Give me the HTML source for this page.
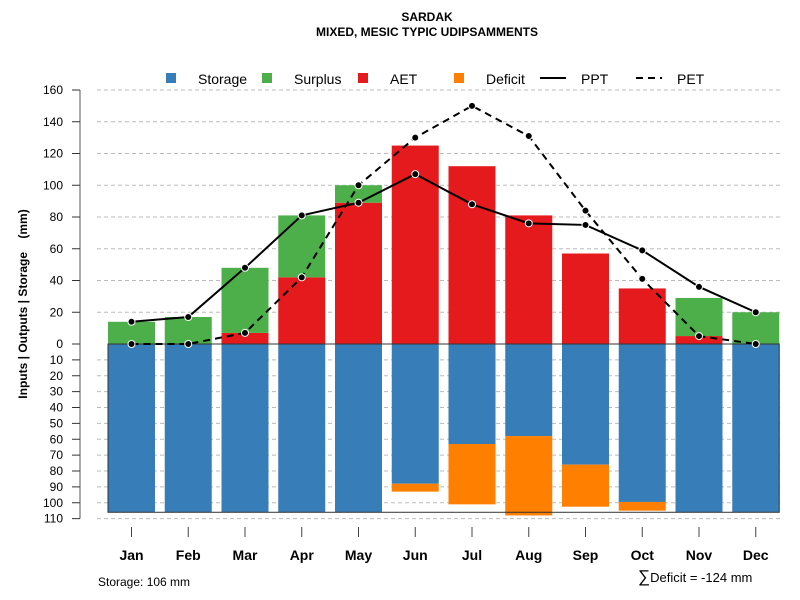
<!DOCTYPE html>
<html><head><meta charset="utf-8"><style>
body{margin:0;background:#fff}
svg{display:block;font-family:"Liberation Sans",sans-serif}
</style></head><body>
<svg id="c" width="800" height="600" xmlns="http://www.w3.org/2000/svg">
<text x="427" y="21" text-anchor="middle" font-size="12" font-weight="bold">SARDAK</text>
<text x="427" y="36" text-anchor="middle" font-size="12" font-weight="bold">MIXED, MESIC TYPIC UDIPSAMMENTS</text>
<g font-size="14">
<rect x="166" y="73" width="10" height="10" fill="#377eb8"/>
<text x="198" y="84">Storage</text>
<rect x="262" y="73" width="10" height="10" fill="#4daf4a"/>
<text x="294" y="84">Surplus</text>
<rect x="358" y="73" width="10" height="10" fill="#e41a1c"/>
<text x="390" y="84">AET</text>
<rect x="454" y="73" width="10" height="10" fill="#ff7f00"/>
<text x="486" y="84">Deficit</text>
<line x1="540" y1="78" x2="566" y2="78" stroke="#000" stroke-width="2"/>
<text x="581" y="84">PPT</text>
<line x1="636" y1="78" x2="662" y2="78" stroke="#000" stroke-width="2" stroke-dasharray="7,5"/>
<text x="677" y="84">PET</text>
</g>
<text transform="translate(27,304) rotate(-90)" text-anchor="middle" font-size="12" font-weight="bold" style="white-space:pre">Inputs | Outputs | Storage    (mm)</text>
<text x="98" y="586" font-size="12">Storage: 106 mm</text>
<text x="638" y="582" font-size="13"><tspan font-size="17">∑</tspan>Deficit = -124 mm</text>
<g id="g"></g>
</svg>
<script>
const months=["Jan","Feb","Mar","Apr","May","Jun","Jul","Aug","Sep","Oct","Nov","Dec"];
const storage=[106,106,106,106,106,88,63,58,76,99.5,106,106];
const deficit=[0,0,0,0,0,5,38,50,26.5,5.5,0,0];
const aet=[0,0,7,42,89,125,112,81,57,35,5,0];
const surplus=[14,17,41,39,11,0,0,0,0,0,24,20];
const ppt=[14,17,48,81,89,107,88,76,75,59,36,20];
const pet=[0,0,7,42,100,130,150,131,84,41,5,0];
const upTicks=[0,20,40,60,80,100,120,140,160];
const downTicks=[10,20,30,40,50,60,70,80,90,100,110];
const maxStorage=106;
const NS="http://www.w3.org/2000/svg",g=document.getElementById('g');
const y0=344,k=1.5875;
const yUp=v=>y0-v*k, yDn=v=>y0+v*k;
const xc=i=>131.5+i*56.75, bw=47;
function el(t,a){const e=document.createElementNS(NS,t);for(const n in a)e.setAttribute(n,a[n]);g.appendChild(e);return e;}
upTicks.forEach(v=>{if(v===0)return;const l=el('line',{x1:97,x2:781,y1:yUp(v),y2:yUp(v),stroke:'#bbb','stroke-dasharray':'4,3'});

});
downTicks.forEach(v=>{const l=el('line',{x1:97,x2:781,y1:yDn(v),y2:yDn(v),stroke:'#bbb','stroke-dasharray':'4,3'});

});
const ax=el('line',{x1:80,x2:80,y1:yUp(160),y2:yDn(110),stroke:'#555','stroke-width':1});


function tick(v,y){const t=el('line',{x1:72,x2:80,y1:y,y2:y,stroke:'#333'});


const tx=el('text',{x:63,y:y+4,'text-anchor':'end','font-size':12});tx.textContent=v;

}
upTicks.forEach(v=>tick(v,yUp(v)));downTicks.forEach(v=>tick(v,yDn(v)));
months.forEach((m,i)=>{const x=xc(i)-bw/2;
let r=el('rect',{x:x,y:y0,width:bw,height:storage[i]*k,fill:'#377eb8'});


if(deficit[i]>0){r=el('rect',{x:x,y:yDn(storage[i]),width:bw,height:deficit[i]*k,fill:'#ff7f00'});

}
if(aet[i]>0){r=el('rect',{x:x,y:yUp(aet[i]),width:bw,height:aet[i]*k,fill:'#e41a1c'});

}
if(surplus[i]>0){r=el('rect',{x:x,y:yUp(aet[i]+surplus[i]),width:bw,height:surplus[i]*k,fill:'#4daf4a'});

}
const t=el('line',{x1:xc(i),x2:xc(i),y1:527,y2:537,stroke:'#444'});


const tx=el('text',{x:xc(i),y:560,'text-anchor':'middle','font-size':14,'font-weight':'bold'});tx.textContent=m;

});
const box=el('rect',{x:xc(0)-bw/2,y:y0,width:xc(11)+bw/2-(xc(0)-bw/2),height:maxStorage*k,fill:'none',stroke:'#333','stroke-width':1});


function series(arr,name,dash){const p=el('polyline',{points:arr.map((v,i)=>xc(i)+','+yUp(v)).join(' '),fill:'none',stroke:'#000','stroke-width':2,'stroke-dasharray':dash||'none'});


arr.forEach((v,i)=>{const c=el('circle',{cx:xc(i),cy:yUp(v),r:3.5,fill:'#000',stroke:'#fff','stroke-width':1});

});}
series(pet,'pet','7,5');series(ppt,'ppt');
</script>
</body></html>
